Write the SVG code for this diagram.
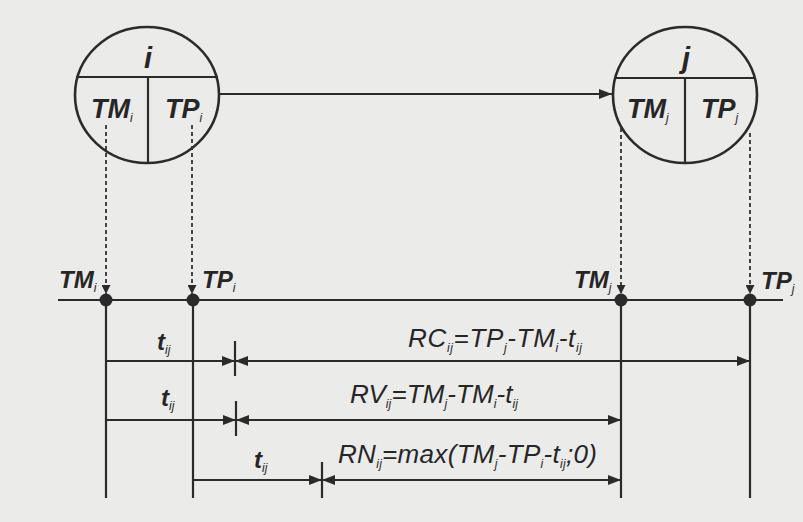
<svg xmlns="http://www.w3.org/2000/svg" width="803" height="522" viewBox="0 0 803 522">
  <style>
    .ln { stroke:#2b2b2b; stroke-width:2.2; fill:none; }
    .circ { stroke:#2b2b2b; stroke-width:2.6; fill:none; }
    .dash { stroke:#333; stroke-width:1.8; stroke-dasharray:4 3; fill:none; }
    .bi { font-family:"Liberation Sans", Arial, sans-serif; font-style:italic; font-weight:bold; fill:#262626; }
    .it { font-family:"Liberation Sans", Arial, sans-serif; font-style:italic; fill:#262626; }
    .sub { font-size:12px; font-weight:normal; }
  </style>
  <defs>
    <marker id="ah" viewBox="0 0 13 10" refX="13" refY="5" markerWidth="13" markerHeight="10" markerUnits="userSpaceOnUse" orient="auto-start-reverse">
      <path d="M0,0 L13,5 L0,10 Z" fill="#2b2b2b"/>
    </marker>
    <marker id="ahs" viewBox="0 0 8 8" refX="8" refY="4" markerWidth="9" markerHeight="9" markerUnits="userSpaceOnUse" orient="auto">
      <path d="M0,0 L8,4 L0,8 Z" fill="#2b2b2b"/>
    </marker>
  </defs>
  <rect x="0" y="0" width="803" height="522" fill="#ebebea"/>

  <g id="node-i">
    <ellipse class="circ" cx="147" cy="95" rx="72" ry="68"/>
    <line class="ln" x1="76" y1="77" x2="218" y2="77"/>
    <line class="ln" x1="148" y1="77" x2="148" y2="162"/>
    <text class="bi" x="148" y="68" font-size="29" text-anchor="middle">i</text>
    <text class="bi" x="91" y="118" font-size="27">TM<tspan class="sub" dy="4">i</tspan></text>
    <text class="bi" x="165" y="118" font-size="27">TP<tspan class="sub" dy="4">i</tspan></text>
  </g>

  <g id="node-j">
    <ellipse class="circ" cx="685" cy="95" rx="72" ry="68"/>
    <line class="ln" x1="614" y1="78" x2="756" y2="78"/>
    <line class="ln" x1="685" y1="78" x2="685" y2="163"/>
    <text class="bi" x="686" y="68" font-size="29" text-anchor="middle">j</text>
    <text class="bi" x="627" y="118" font-size="27">TM<tspan class="sub" dy="4">j</tspan></text>
    <text class="bi" x="701" y="118" font-size="27">TP<tspan class="sub" dy="4">j</tspan></text>
  </g>

  <g id="connectors">
    <line class="ln" x1="220" y1="94" x2="612" y2="94" marker-end="url(#ah)"/>
    <line class="dash" x1="106" y1="125" x2="106" y2="294" marker-end="url(#ahs)"/>
    <line class="dash" x1="192" y1="125" x2="192" y2="294" marker-end="url(#ahs)"/>
    <line class="dash" x1="621" y1="128" x2="621" y2="294" marker-end="url(#ahs)"/>
    <line class="dash" x1="750" y1="133" x2="750" y2="294" marker-end="url(#ahs)"/>
  </g>

  <g id="timeline">
    <line class="ln" x1="58" y1="300" x2="783" y2="300"/>
    <line class="ln" x1="106" y1="300" x2="106" y2="498"/>
    <line class="ln" x1="193" y1="300" x2="193" y2="498"/>
    <line class="ln" x1="621" y1="300" x2="621" y2="498"/>
    <line class="ln" x1="750" y1="300" x2="750" y2="498"/>
    <circle cx="106" cy="300" r="6.5" fill="#2b2b2b"/>
    <circle cx="193" cy="300" r="6.5" fill="#2b2b2b"/>
    <circle cx="621" cy="300" r="6.5" fill="#2b2b2b"/>
    <circle cx="750" cy="300" r="6.5" fill="#2b2b2b"/>
    <text class="bi" x="59" y="288" font-size="24">TM<tspan class="sub" dy="4">i</tspan></text>
    <text class="bi" x="202" y="288" font-size="24">TP<tspan class="sub" dy="4">i</tspan></text>
    <text class="bi" x="574" y="288" font-size="24">TM<tspan class="sub" dy="4">j</tspan></text>
    <text class="bi" x="761" y="289" font-size="24">TP<tspan class="sub" dy="4">j</tspan></text>
  </g>

  <g id="row-RC">
    <line class="ln" x1="106" y1="361" x2="235" y2="361" marker-end="url(#ah)"/>
    <line class="ln" x1="235" y1="361" x2="750" y2="361" marker-start="url(#ah)" marker-end="url(#ah)"/>
    <line class="ln" x1="235" y1="341" x2="235" y2="376" stroke-width="1.6"/>
    <text class="bi" x="157" y="350" font-size="24">t<tspan class="sub" dy="4">ij</tspan></text>
    <text class="it" x="408" y="347" font-size="26" textLength="174" lengthAdjust="spacing">RC<tspan class="sub" dy="5">ij</tspan><tspan dy="-5">=TP</tspan><tspan class="sub" dy="5">j</tspan><tspan dy="-5">-TM</tspan><tspan class="sub" dy="5">i</tspan><tspan dy="-5">-t</tspan><tspan class="sub" dy="5">ij</tspan></text>
  </g>

  <g id="row-RV">
    <line class="ln" x1="106" y1="420" x2="236" y2="420" marker-end="url(#ah)"/>
    <line class="ln" x1="236" y1="420" x2="621" y2="420" marker-start="url(#ah)" marker-end="url(#ah)"/>
    <line class="ln" x1="236" y1="401" x2="236" y2="436" stroke-width="1.6"/>
    <text class="bi" x="161" y="406" font-size="24">t<tspan class="sub" dy="4">ij</tspan></text>
    <text class="it" x="350" y="403" font-size="26" textLength="168" lengthAdjust="spacing">RV<tspan class="sub" dy="5">ij</tspan><tspan dy="-5">=TM</tspan><tspan class="sub" dy="5">j</tspan><tspan dy="-5">-TM</tspan><tspan class="sub" dy="5">i</tspan><tspan dy="-5">-t</tspan><tspan class="sub" dy="5">ij</tspan></text>
  </g>

  <g id="row-RN">
    <line class="ln" x1="193" y1="480" x2="322" y2="480" marker-end="url(#ah)"/>
    <line class="ln" x1="322" y1="480" x2="621" y2="480" marker-start="url(#ah)" marker-end="url(#ah)"/>
    <line class="ln" x1="322" y1="462" x2="322" y2="498" stroke-width="1.6"/>
    <text class="bi" x="254" y="468" font-size="24">t<tspan class="sub" dy="4">ij</tspan></text>
    <text class="it" x="338" y="463" font-size="26" textLength="259" lengthAdjust="spacing">RN<tspan class="sub" dy="5">ij</tspan><tspan dy="-5">=max(TM</tspan><tspan class="sub" dy="5">j</tspan><tspan dy="-5">-TP</tspan><tspan class="sub" dy="5">i</tspan><tspan dy="-5">-t</tspan><tspan class="sub" dy="5">ij</tspan><tspan dy="-5">;0)</tspan></text>
  </g>
</svg>
